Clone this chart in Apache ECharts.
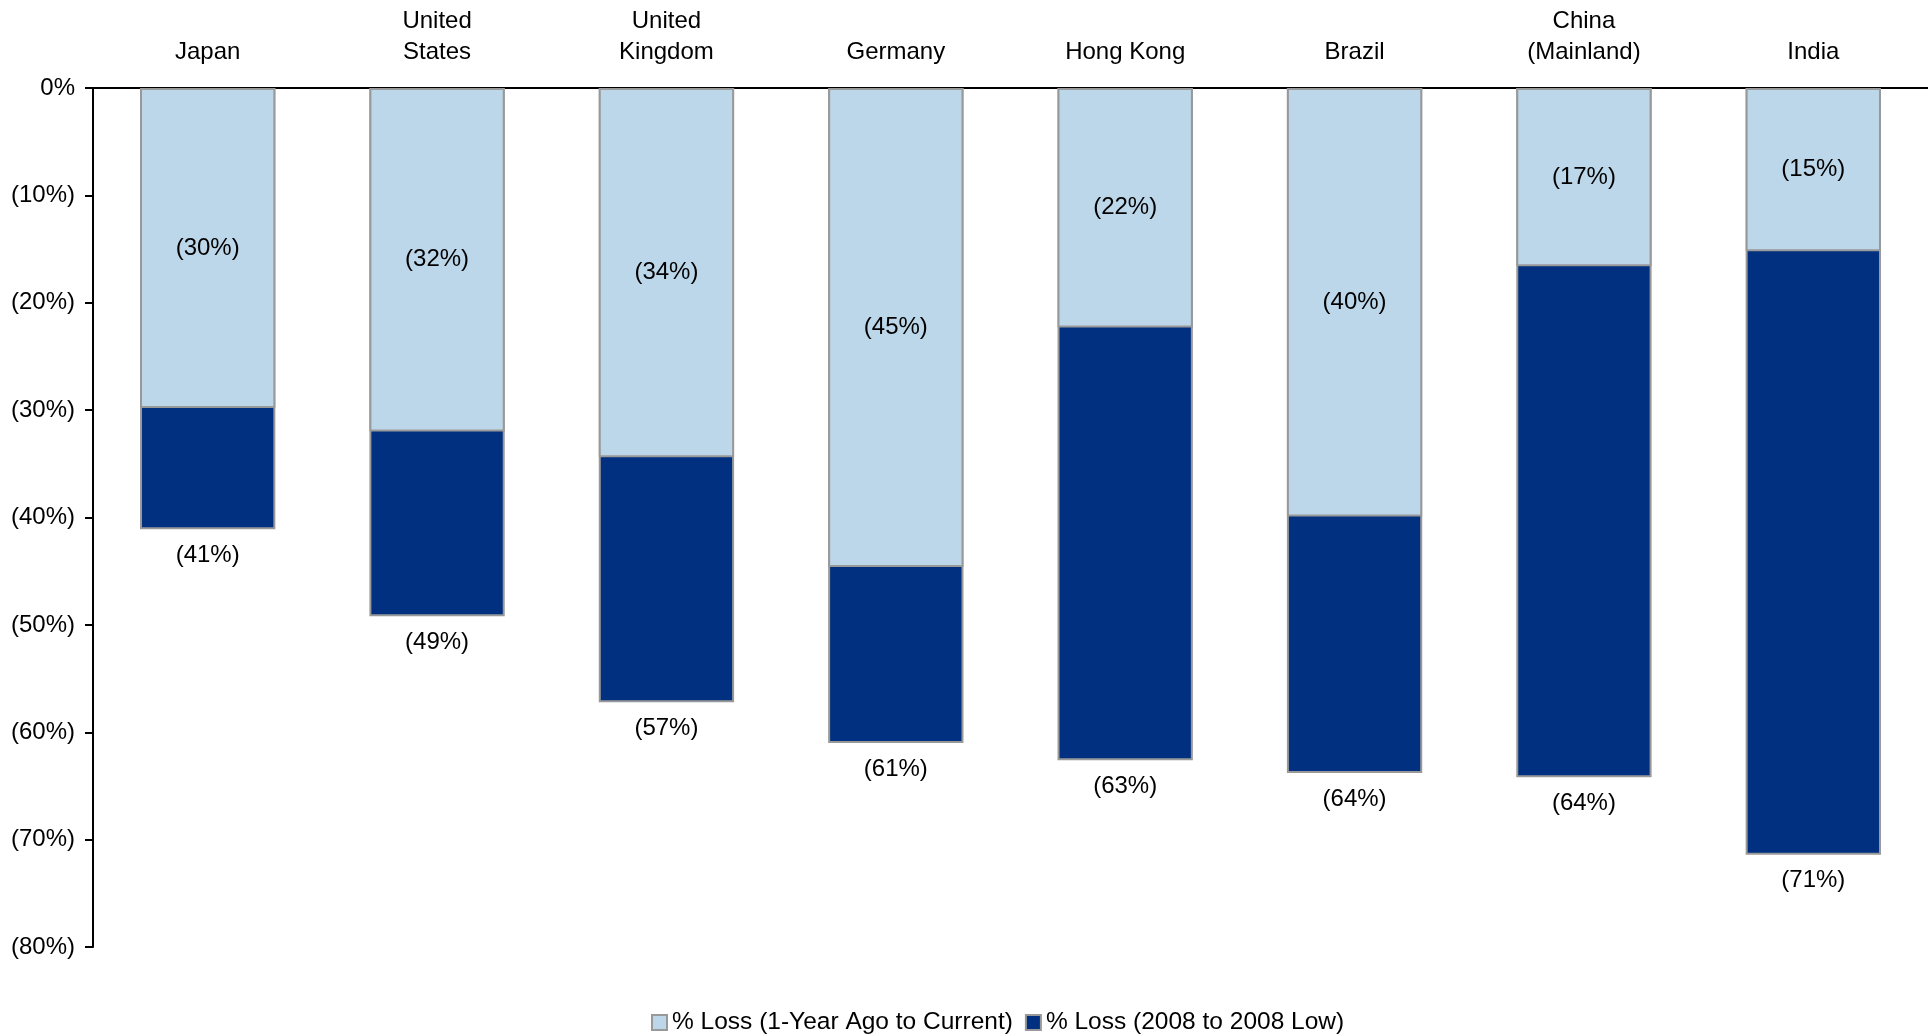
<!DOCTYPE html>
<html>
<head>
<meta charset="utf-8">
<script src="https://cdn.jsdelivr.net/npm/echarts@6/dist/echarts.min.js"></script>
<style>
  html, body { margin: 0; padding: 0; background: #fff; }
  #chart { width: 1928px; height: 1036px; }
</style>
</head>
<body>
<div id="chart"></div>
<script>
// Markets
const categories = ['Japan', 'United\nStates', 'United\nKingdom', 'Germany', 'Hong Kong', 'Brazil', 'China\n(Mainland)', 'India'];
// % loss, 1-year ago to current (negative = loss)
const lossOneYear = [-29.8, -32.0, -34.4, -44.6, -22.3, -39.9, -16.6, -15.2];
// % loss, 2008 to 2008 low (negative = loss)
const lossTo2008Low = [-41.1, -49.2, -57.2, -61.0, -62.6, -63.8, -64.2, -71.4];
const yTicks = { min: -80, max: 0, interval: 10 };
const seriesNames = ['% Loss (1-Year Ago to Current)', '% Loss (2008 to 2008 Low)'];

const FONT = 'Liberation Sans, Arial, sans-serif';
const pct = v => {
  const r = Math.round(Math.abs(v));
  return v === 0 ? '0%' : '(' + r + '%)';
};

const chart = echarts.init(document.getElementById('chart'));
chart.setOption({
  animation: false,
  textStyle: { fontFamily: FONT },
  grid: { left: 93, right: 0, top: 88, bottom: 89 },
  legend: {
    bottom: -4,
    left: 646,
    itemWidth: 15,
    itemHeight: 15,
    itemGap: 12,
    textStyle: { fontFamily: FONT, fontSize: 24.5, color: '#000' },
    data: [
      { name: seriesNames[0], icon: 'rect', itemStyle: { borderColor: '#999', borderWidth: 2 } },
      { name: seriesNames[1], icon: 'rect', itemStyle: { borderColor: '#999', borderWidth: 2 } }
    ]
  },
  xAxis: {
    type: 'category',
    position: 'top',
    data: categories,
    axisLine: { show: true, lineStyle: { color: '#000', width: 2 } },
    axisTick: { show: false },
    axisLabel: {
      fontFamily: FONT, fontSize: 24, color: '#000', lineHeight: 31,
      margin: 20, interval: 0
    },
    splitLine: { show: false }
  },
  yAxis: {
    type: 'value',
    min: yTicks.min,
    max: yTicks.max,
    interval: yTicks.interval,
    axisLine: { show: true, lineStyle: { color: '#000', width: 2 } },
    axisTick: { show: true, length: 8, lineStyle: { color: '#000', width: 2 } },
    axisLabel: { fontFamily: FONT, fontSize: 24, color: '#000', margin: 18, formatter: pct },
    splitLine: { show: false }
  },
  series: [
    {
      name: seriesNames[0],
      type: 'bar',
      data: lossOneYear,
      barWidth: '59%',
      barGap: '-100%',
      z: 3,
      itemStyle: { color: '#BDD7EA', borderColor: '#999', borderWidth: 2 },
      label: {
        show: true, position: 'inside', color: '#000',
        fontFamily: FONT, fontSize: 24,
        formatter: p => pct(p.value)
      }
    },
    {
      name: seriesNames[1],
      type: 'bar',
      data: lossTo2008Low,
      barWidth: '59%',
      barGap: '-100%',
      z: 2,
      itemStyle: { color: '#00307F', borderColor: '#999', borderWidth: 2 },
      label: {
        show: true, position: 'bottom', distance: 14, color: '#000',
        fontFamily: FONT, fontSize: 24,
        formatter: p => pct(p.value)
      }
    }
  ]
});
</script>
</body>
</html>
